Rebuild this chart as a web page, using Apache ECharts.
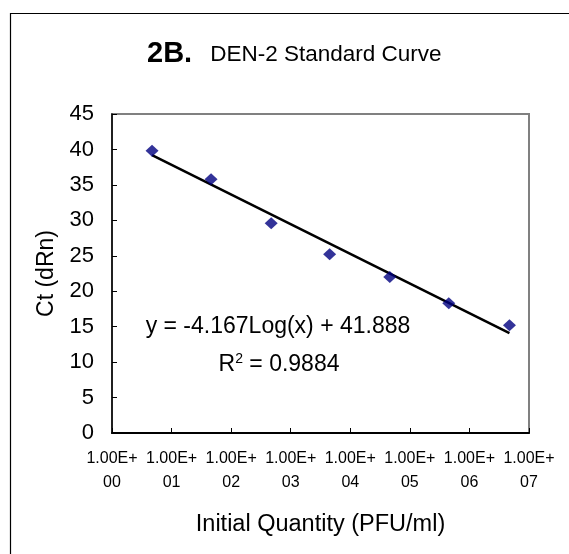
<!DOCTYPE html>
<html>
<head>
<meta charset="utf-8">
<script src="https://cdn.jsdelivr.net/npm/echarts@6/dist/echarts.min.js"></script>
<style>
html,body{margin:0;padding:0;background:#fff;}
#chart{width:569px;height:554px;}
</style>
</head>
<body>
<div id="chart"></div>
<script>
// Data
var quantity = [4.7, 46, 470, 4500, 46000, 450000, 4700000]; // PFU/ml
var ctValues = [39.8, 35.8, 29.6, 25.2, 22.0, 18.3, 15.2];   // Ct (dRn)
var trendX = [4.7, 4700000];
var trendY = [39.2, 14.1];
var xTickLabels = ['1.00E+\n00','1.00E+\n01','1.00E+\n02','1.00E+\n03','1.00E+\n04','1.00E+\n05','1.00E+\n06','1.00E+\n07'];
var equationText = 'y = -4.167Log(x) + 41.888';
var r2Text = '0.9884';

var scatterData = quantity.map(function (q, i) { return [q, ctValues[i]]; });
var trendData = trendX.map(function (q, i) { return [q, trendY[i]]; });

var chart = echarts.init(document.getElementById('chart'), null, {renderer: 'canvas'});
var font = '"Liberation Sans", Arial, sans-serif';

chart.setOption({
  animation: false,
  backgroundColor: '#fff',
  title: {
    text: '{b|2B.}{n|DEN-2 Standard Curve}',
    left: 142, top: 34,
    textStyle: {
      rich: {
        b: {fontFamily: font, fontSize: 29, fontWeight: 'bold', color: '#000'},
        n: {fontFamily: font, fontSize: 22.5, fontWeight: 'normal', color: '#000', padding: [3, 0, 0, 18]}
      }
    }
  },
  grid: {
    left: 112, right: 40, top: 114, bottom: 121,
    show: true, borderColor: '#808080', borderWidth: 2, backgroundColor: '#fff'
  },
  xAxis: {
    type: 'log', logBase: 10, min: 1, max: 10000000,
    splitNumber: 7,
    name: 'Initial Quantity (PFU/ml)', nameLocation: 'middle', nameGap: 80,
    nameTextStyle: {fontFamily: font, fontSize: 23.5, color: '#000'},
    axisLine: {lineStyle: {color: '#000', width: 2}},
    axisTick: {inside: true, length: 5, lineStyle: {color: '#000', width: 1}},
    splitLine: {show: false},
    axisLabel: {
      fontFamily: font, fontSize: 16, color: '#000', lineHeight: 24, margin: 14,
      formatter: function (v) {
        var e = Math.round(Math.log(v) / Math.LN10);
        return xTickLabels[e] !== undefined ? xTickLabels[e] : '';
      }
    }
  },
  yAxis: {
    type: 'value', min: 0, max: 45, interval: 5,
    name: 'Ct (dRn)', nameLocation: 'middle', nameGap: 38,
    nameTextStyle: {fontFamily: font, fontSize: 23, color: '#000'},
    axisLine: {show: true, lineStyle: {color: '#000', width: 1.5}},
    axisTick: {show: true, inside: true, length: 5, lineStyle: {color: '#000', width: 1}},
    splitLine: {show: false},
    axisLabel: {fontFamily: font, fontSize: 22, color: '#000', margin: 18}
  },
  series: [
    {
      type: 'line', data: trendData, showSymbol: false, symbol: 'none',
      lineStyle: {color: '#000', width: 2.6}, z: 2, silent: true
    },
    {
      type: 'scatter', data: scatterData, symbol: 'diamond', symbolSize: [13, 12],
      itemStyle: {color: '#000080'}, z: 3
    }
  ],
  graphic: [
    {
      type: 'rect', left: 8, top: 11, z: 100,
      shape: {x: 0, y: 0, width: 700, height: 700},
      style: {fill: 'none', stroke: '#000', lineWidth: 1.2}
    },
    {
      type: 'text', x: 278, y: 327, z: 100,
      style: {text: equationText, fontFamily: font, fontSize: 23, fill: '#000', align: 'center', verticalAlign: 'middle'}
    },
    {
      type: 'text', x: 279, y: 365, z: 100,
      style: {
        text: '{r|R}{s|2}{r| = ' + r2Text + '}', align: 'center', verticalAlign: 'middle',
        rich: {
          r: {fontFamily: font, fontSize: 23, fill: '#000', color: '#000'},
          s: {fontFamily: font, fontSize: 14, color: '#000', verticalAlign: 'top', padding: [0, 0, 12, 0]}
        }
      }
    }
  ]
});
</script>
</body>
</html>
